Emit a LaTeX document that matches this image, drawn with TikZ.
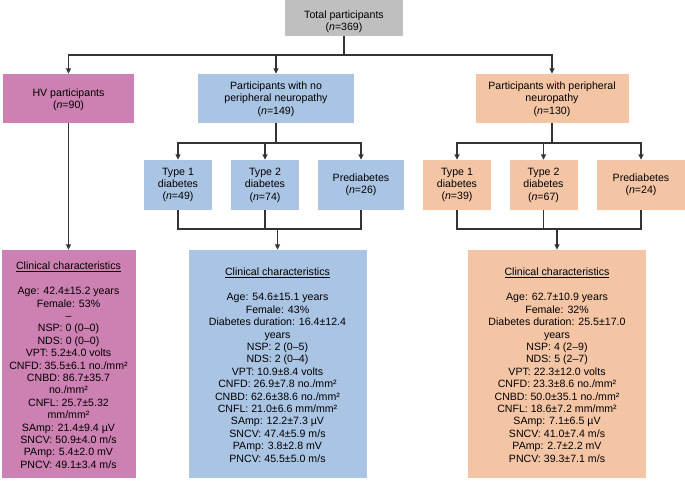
\documentclass[tikz,border=0pt]{standalone}
\usepackage{fontspec}
\setmainfont{Liberation Sans}
\usetikzlibrary{arrows.meta}
\definecolor{cgray}{HTML}{BFBFBF}
\definecolor{cpink}{HTML}{CD81B2}
\definecolor{cblue}{HTML}{AAC4E4}
\definecolor{cpeach}{HTML}{F4C5A5}
\definecolor{linec}{HTML}{333333}
\begin{document}
\begin{tikzpicture}[x=1pt,y=-1pt,
  box/.style={rectangle, draw=none, inner sep=1pt, align=center, text=black,
    font=\fontsize{10.6}{12.4}\selectfont},
  conn/.style={draw=linec, line width=1.5pt},
  arr/.style={conn, -{Triangle[length=5.5pt,width=5pt]}}]
\useasboundingbox (0,0) rectangle (685,481);

% top
\node[box, fill=cgray, minimum width=118pt, minimum height=36pt] (total) at (344,18)
  {\rule{0pt}{15.7pt}Total participants\\(\textit{n}=369)};

% first level
\node[box, fill=cpink, minimum width=131pt, minimum height=49pt] (hv) at (68.5,98.5)
  {\rule{0pt}{10.5pt}HV participants\\(\textit{n}=90)};
\node[box, fill=cblue, minimum width=156pt, minimum height=49pt] (nopn) at (276,98.5)
  {\rule{0pt}{9pt}Participants with no\\peripheral neuropathy\\(\textit{n}=149)};
\node[box, fill=cpeach, minimum width=153pt, minimum height=49pt] (pn) at (552,98.5)
  {\rule{0pt}{9pt}Participants with peripheral\\neuropathy\\(\textit{n}=130)};

% second level blue
\node[box, fill=cblue, minimum width=68pt, minimum height=50pt] (b1) at (178,185)
  {Type 1\\diabetes\\(\textit{n}=49)};
\node[box, fill=cblue, minimum width=68pt, minimum height=50pt] (b2) at (265,185)
  {Type 2\\diabetes\\(\textit{n}=74)};
\node[box, fill=cblue, minimum width=86pt, minimum height=50pt] (b3) at (361,185)
  {Prediabetes\\(\textit{n}=26)};

% second level peach
\node[box, fill=cpeach, minimum width=68pt, minimum height=50pt] (o1) at (457,185)
  {Type 1\\diabetes\\(\textit{n}=39)};
\node[box, fill=cpeach, minimum width=68pt, minimum height=50pt] (o2) at (543.5,185)
  {Type 2\\diabetes\\(\textit{n}=67)};
\node[box, fill=cpeach, minimum width=88pt, minimum height=50pt] (o3) at (641,185)
  {Prediabetes\\(\textit{n}=24)};

% bottom boxes
\node[box, fill=cpink, minimum width=134pt, minimum height=228pt] (ch) at (68.5,364)
  {\rule{0pt}{10pt}\underline{Clinical characteristics}\\[12.6pt]
   Age: 42.4±15.2 years\\
   Female: 53\%\\
   –\\
   NSP: 0 (0–0)\\
   NDS: 0 (0–0)\\
   VPT: 5.2±4.0 volts\\
   CNFD: 35.5±6.1 no./mm²\\
   CNBD: 86.7±35.7\\
   no./mm²\\
   CNFL: 25.7±5.32\\
   mm/mm²\\
   SAmp: 21.4±9.4 µV\\
   SNCV: 50.9±4.0 m/s\\
   PAmp: 5.4±2.0 mV\\
   PNCV: 49.1±3.4 m/s};
\node[box, fill=cblue, minimum width=178pt, minimum height=228pt] (cb) at (277.5,364)
  {\rule{0pt}{10pt}\underline{Clinical characteristics}\\[12.6pt]
   Age: 54.6±15.1 years\\
   Female: 43\%\\
   Diabetes duration: 16.4±12.4\\
   years\\
   NSP: 2 (0–5)\\
   NDS: 2 (0–4)\\
   VPT: 10.9±8.4 volts\\
   CNFD: 26.9±7.8 no./mm²\\
   CNBD: 62.6±38.6 no./mm²\\
   CNFL: 21.0±6.6 mm/mm²\\
   SAmp: 12.2±7.3 µV\\
   SNCV: 47.4±5.9 m/s\\
   PAmp: 3.8±2.8 mV\\
   PNCV: 45.5±5.0 m/s};
\node[box, fill=cpeach, minimum width=178pt, minimum height=228pt] (cp) at (557,364)
  {\rule{0pt}{10pt}\underline{Clinical characteristics}\\[12.6pt]
   Age: 62.7±10.9 years\\
   Female: 32\%\\
   Diabetes duration: 25.5±17.0\\
   years\\
   NSP: 4 (2–9)\\
   NDS: 5 (2–7)\\
   VPT: 22.3±12.0 volts\\
   CNFD: 23.3±8.6 no./mm²\\
   CNBD: 50.0±35.1 no./mm²\\
   CNFL: 18.6±7.2 mm/mm²\\
   SAmp: 7.1±6.5 µV\\
   SNCV: 41.0±7.4 m/s\\
   PAmp: 2.7±2.2 mV\\
   PNCV: 39.3±7.1 m/s};

% junctions
\coordinate (j0) at (344,55);
\coordinate (jb) at (276,143);
\coordinate (jo) at (552,143);
\coordinate (mb) at (277.5,229);
\coordinate (mo) at (557,229);

% connectors top
\draw[conn] (total) -- (j0);
\draw[arr] (j0) -| (hv);
\draw[arr] (j0) -| (nopn);
\draw[arr] (j0) -| (pn);

% HV down
\draw[arr] (hv) -- (ch);

% blue split
\draw[conn] (nopn) -- (jb);
\draw[arr] (jb) -| (b1);
\draw[arr] (jb) -| (b2);
\draw[arr] (jb) -| (b3);
% peach split
\draw[conn] (pn) -- (jo);
\draw[arr] (jo) -| (o1);
\draw[arr] (jo) -| (o2);
\draw[arr] (jo) -| (o3);

% blue merge
\draw[conn] (b1) |- (mb);
\draw[conn] (b3) |- (mb);
\draw[conn] (b2) -- (b2 |- mb);
\draw[arr] (mb) -- (cb);
% peach merge
\draw[conn] (o1) |- (mo);
\draw[conn] (o3) |- (mo);
\draw[conn] (o2) -- (o2 |- mo);
\draw[arr] (mo) -- (cp);
\end{tikzpicture}
\end{document}
